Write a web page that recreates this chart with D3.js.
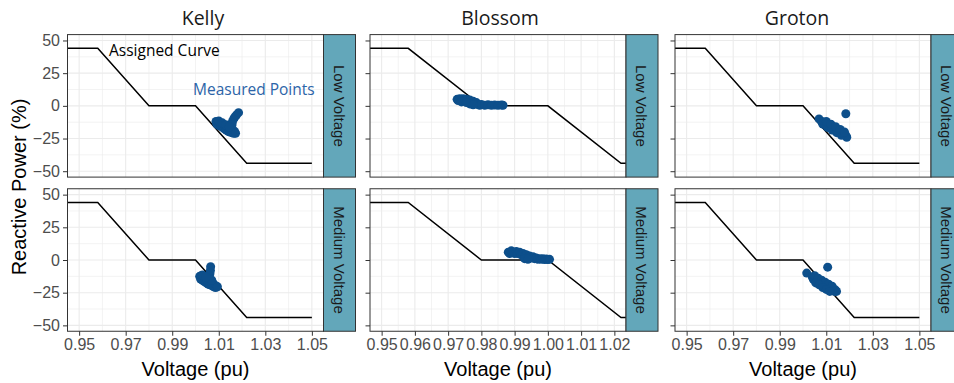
<!DOCTYPE html>
<meta charset="utf-8">
<style>
body { margin: 0; background: #fff; }
svg text { font-family: "Liberation Sans", Arial, sans-serif; }
.grid .major { stroke: #ebebeb; stroke-width: 1.1px; }
.grid .minor { stroke: #ebebeb; stroke-width: 0.6px; }
.axis .tick line { stroke: #333; }
.axis .tick text { fill: #4d4d4d; font-size: 16px; }
.axis .domain { display: none; }
.border { fill: none; stroke: #333; stroke-width: 1px; }
.strip rect { fill: #63a7ba; stroke: #333; stroke-width: 1px; }
.strip text { fill: #1a1a1a; font-size: 15px; }
.site { font-family: "Open Sans", sans-serif !important; font-size: 19.5px; fill: #1a1a1a; }
.note { font-family: "Open Sans", sans-serif !important; font-size: 15.5px; }
</style>
<svg width="954" height="383"></svg>
<script src="https://d3js.org/d3.v7.min.js"></script>
<script>
var sites = ["Kelly", "Blossom", "Groton"];
var levels = ["Low Voltage", "Medium Voltage"];

// assigned volt-var curve
var curveV = [0.94, 0.958, 0.98, 1.0, 1.022, 1.05];
var curveQ = [44, 44, 0, 0, -44, -44];

var qTicks = [-50, -25, 0, 25, 50];
var kellyTicks = [0.95, 0.97, 0.99, 1.01, 1.03, 1.05];
var blossomTicks = [0.95, 0.96, 0.97, 0.98, 0.99, 1.00, 1.01, 1.02];
var grotonTicks = [0.95, 0.97, 0.99, 1.01, 1.03, 1.05];

// measured points [voltage, reactive power]
var kellyLow = [[1.0088,-12],[1.0092,-14],[1.0096,-12.5],[1.0100,-15],[1.0104,-13],[1.0108,-15.5],
  [1.0112,-14],[1.0116,-16.5],[1.0120,-15],[1.0124,-17.5],[1.0128,-16],[1.0132,-18.5],[1.0136,-17],
  [1.0140,-19.5],[1.0144,-17.5],[1.0148,-20],[1.0152,-18.5],[1.0156,-20.5],[1.0160,-19],
  [1.0164,-21],[1.0168,-19.5],[1.0172,-21],[1.0100,-11.5],[1.0115,-13],[1.0130,-14.5],
  [1.0159,-12],[1.0164,-10],[1.0169,-8.5],[1.0176,-7],[1.0185,-5.2],[1.0157,-14.5],[1.0145,-16]];
var kellyMedium = [[1.0018,-12.5],[1.0022,-14.5],[1.0026,-12],[1.0030,-15.5],[1.0034,-13.5],
  [1.0038,-16.5],[1.0042,-14.5],[1.0046,-17.5],[1.0050,-15.5],[1.0054,-18.5],[1.0058,-16.5],
  [1.0062,-19],[1.0066,-17],[1.0070,-19.5],[1.0074,-18],[1.0078,-20.5],[1.0082,-19],[1.0086,-21],
  [1.0090,-20],[1.0094,-20.5],[1.0060,-13],[1.0062,-10.5],[1.0064,-8],[1.0065,-5.2],
  [1.0055,-14],[1.0070,-15.5],[1.0030,-11.5],[1.0045,-13]];
var blossomLow = [[0.9727,5],[0.9730,4],[0.9735,5.5],[0.9740,4.5],[0.9745,5.5],[0.9750,4],
  [0.9755,5],[0.9760,3],[0.9765,4.5],[0.9770,2.5],[0.9775,3.5],[0.9780,1.5],[0.9785,2.5],
  [0.9790,1],[0.9795,0.5],[0.9800,1],[0.9810,0.5],[0.9820,0.8],[0.9830,0.4],[0.9840,0.6],
  [0.9850,0.4],[0.9860,0.6],[0.9865,0.5],[0.9765,1.5],[0.9775,0.8],[0.9740,3],[0.9755,2.5]];
var blossomMedium = [[0.9881,6],[0.9885,5],[0.9890,7],[0.9895,6],[0.9900,5],[0.9905,6.5],
  [0.9910,5],[0.9915,6],[0.9920,4],[0.9925,5],[0.9930,3],[0.9935,4],[0.9940,2],[0.9945,3],
  [0.9950,1.5],[0.9955,2.5],[0.9960,1],[0.9965,1.5],[0.9970,0.5],[0.9975,1],[0.9980,0.5],
  [0.9985,1],[0.9990,0.3],[0.9995,0.8],[1.0000,0.3],[1.0005,0.5],[0.9930,1],[0.9940,0.5]];
var grotonLow = [[1.0069,-10],[1.0080,-12],[1.0090,-12.5],[1.0095,-14],[1.0100,-13.5],
  [1.0105,-15],[1.0110,-14.5],[1.0115,-16],[1.0120,-15.5],[1.0125,-17],[1.0130,-16.5],
  [1.0135,-18],[1.0140,-17.5],[1.0145,-19],[1.0150,-18.5],[1.0155,-20],[1.0160,-19.5],
  [1.0165,-21],[1.0170,-20.5],[1.0175,-22],[1.0180,-21.5],[1.0185,-23],[1.0188,-24],[1.0184,-6],
  [1.0085,-14],[1.0105,-16.5],[1.0125,-18.5],[1.0145,-20.5],[1.0165,-22.5],[1.0100,-12],
  [1.0120,-14],[1.0140,-16],[1.0160,-18],[1.0178,-20]];
var grotonMedium = [[1.0016,-10],[1.0106,-5.5],[1.0040,-13],[1.0045,-15],[1.0050,-14],
  [1.0055,-16],[1.0060,-15],[1.0065,-17.5],[1.0070,-16],[1.0075,-18.5],[1.0080,-17],
  [1.0085,-19.5],[1.0090,-18],[1.0095,-20.5],[1.0100,-19],[1.0105,-21.5],[1.0110,-20],
  [1.0115,-22.5],[1.0120,-21],[1.0125,-23],[1.0130,-22],[1.0135,-24],[1.0140,-23],[1.0144,-24],
  [1.0050,-12],[1.0065,-14],[1.0080,-15.5],[1.0095,-17],[1.0110,-18.5],[1.0125,-20],
  [1.0055,-17.5],[1.0070,-19],[1.0085,-21],[1.0100,-22.5],[1.0115,-24]];

var svg = d3.select("svg");
var panelW = 256, panelH = 142.5, stripW = 32;
var panelX = [67.5, 370, 675];
var panelY = [34.6, 188.75];
var titleX = [203, 500, 797];
var xDomains = [[0.945, 1.055], [0.9465, 1.0235], [0.945, 1.055]];
var xTicks = [kellyTicks, blossomTicks, grotonTicks];
var points = [[kellyLow, kellyMedium], [blossomLow, blossomMedium], [grotonLow, grotonMedium]];

function mids(t) { return d3.pairs(t).map(function(p) { return (p[0] + p[1]) / 2; }); }

sites.forEach(function(site, i) {
  var x = d3.scaleLinear().domain(xDomains[i]).range([0, panelW]);
  var y = d3.scaleLinear().domain([-54.5, 54.5]).range([panelH, 0]);
  var line = d3.line()
      .x(function(d) { return x(d[0]); })
      .y(function(d) { return y(d[1]); });

  svg.append("text")
      .attr("class", "site")
      .attr("x", titleX[i])
      .attr("y", 25)
      .attr("text-anchor", "middle")
      .text(site);

  levels.forEach(function(level, j) {
    var g = svg.append("g")
        .attr("transform", "translate(" + panelX[i] + "," + panelY[j] + ")");
    var clipId = "clip-" + i + "-" + j;
    g.append("clipPath").attr("id", clipId)
      .append("rect").attr("width", panelW).attr("height", panelH);

    var grid = g.append("g").attr("class", "grid");
    grid.selectAll(".vmin").data(mids(xTicks[i])).enter().append("line")
        .attr("class", "minor")
        .attr("x1", x).attr("x2", x).attr("y1", 0).attr("y2", panelH);
    grid.selectAll(".hmin").data(mids(qTicks)).enter().append("line")
        .attr("class", "minor")
        .attr("y1", y).attr("y2", y).attr("x1", 0).attr("x2", panelW);
    grid.selectAll(".vmaj").data(xTicks[i]).enter().append("line")
        .attr("class", "major")
        .attr("x1", x).attr("x2", x).attr("y1", 0).attr("y2", panelH);
    grid.selectAll(".hmaj").data(qTicks).enter().append("line")
        .attr("class", "major")
        .attr("y1", y).attr("y2", y).attr("x1", 0).attr("x2", panelW);

    var plot = g.append("g").attr("clip-path", "url(#" + clipId + ")");
    plot.append("path")
        .datum(d3.zip(curveV, curveQ))
        .attr("d", line)
        .attr("fill", "none")
        .attr("stroke", "#000")
        .attr("stroke-width", 1.5);
    plot.selectAll("circle")
        .data(points[i][j])
      .enter().append("circle")
        .attr("cx", function(d) { return x(d[0]); })
        .attr("cy", function(d) { return y(d[1]); })
        .attr("r", 4.5)
        .attr("fill", "#0d4f8b");

    g.append("rect").attr("class", "border")
        .attr("width", panelW).attr("height", panelH);

    var yAxis = d3.axisLeft(y).tickValues(qTicks).tickSize(4.5).tickPadding(3);
    if (i > 0) yAxis.tickFormat("");
    g.append("g").attr("class", "axis").call(yAxis);

    if (j == 1) {
      g.append("g")
          .attr("class", "axis")
          .attr("transform", "translate(0," + panelH + ")")
          .call(d3.axisBottom(x).tickValues(xTicks[i]).tickFormat(d3.format(".2f"))
            .tickSize(4.5).tickPadding(3));
    }

    var strip = g.append("g").attr("class", "strip")
        .attr("transform", "translate(" + panelW + ",0)");
    strip.append("rect").attr("width", stripW).attr("height", panelH);
    strip.append("text")
        .attr("transform", "translate(" + (stripW / 2 - 1) + "," + (panelH / 2) + ") rotate(90)")
        .attr("text-anchor", "middle")
        .attr("dy", "0.33em")
        .text(level);
  });

  svg.append("text")
      .attr("x", panelX[i] + panelW / 2)
      .attr("y", 376)
      .attr("text-anchor", "middle")
      .attr("font-size", 20)
      .text("Voltage (pu)");
});

svg.append("text")
    .attr("transform", "translate(26,187) rotate(-90)")
    .attr("text-anchor", "middle")
    .attr("font-size", 20)
    .text("Reactive Power (%)");

svg.append("text").attr("class", "note")
    .attr("x", 109).attr("y", 56)
    .attr("fill", "#000")
    .text("Assigned Curve");
svg.append("text").attr("class", "note")
    .attr("x", 193).attr("y", 95)
    .attr("fill", "#2c64a8")
    .text("Measured Points");
</script>
